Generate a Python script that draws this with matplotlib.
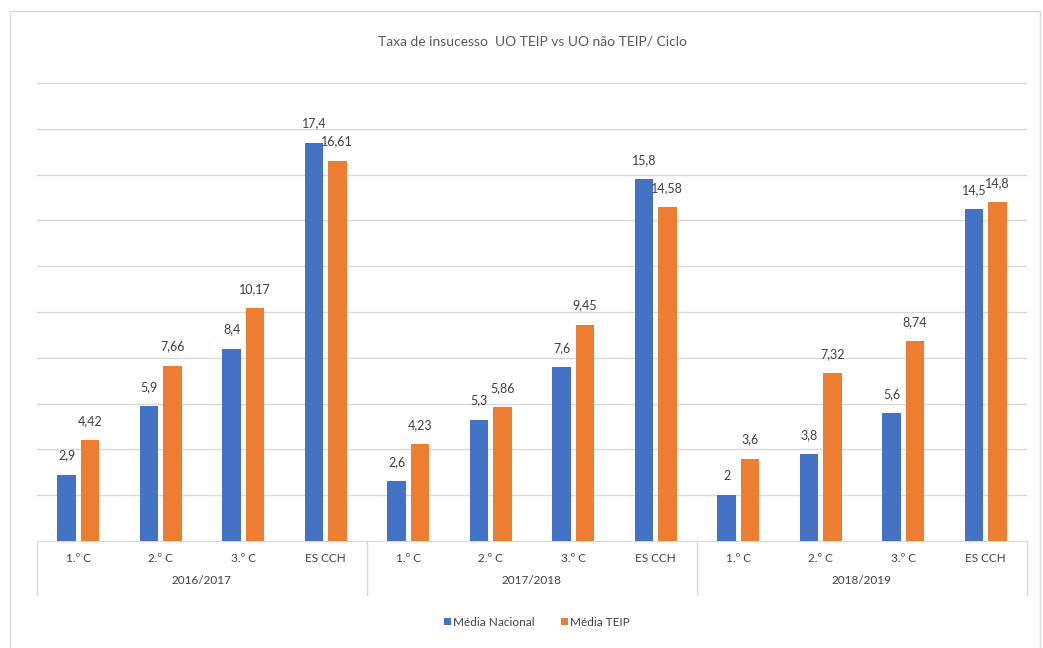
import matplotlib.pyplot as plt
import matplotlib.transforms as mtransforms
from matplotlib.patches import Rectangle
import numpy as np

# --- Données ---
anos = ['2016/2017', '2017/2018', '2018/2019']
ciclos = ['1.º C', '2.º C', '3.º C', 'ES CCH']
media_nacional = [2.9, 5.9, 8.4, 17.4, 2.6, 5.3, 7.6, 15.8, 2.0, 3.8, 5.6, 14.5]
media_teip = [4.42, 7.66, 10.17, 16.61, 4.23, 5.86, 9.45, 14.58, 3.6, 7.32, 8.74, 14.8]

titulo = 'Taxa de insucesso  UO TEIP vs UO não TEIP/ Ciclo'
cor_nac = '#4472C4'
cor_teip = '#ED7D31'
cor_grelha = '#D9D9D9'
cor_texto = '#404040'

plt.rcParams['font.family'] = ['Lato', 'DejaVu Sans']

fig = plt.figure(figsize=(10.43, 6.48), dpi=100)
fig.patch.set_facecolor('white')

# moldura do gráfico (estilo Excel)
fig.add_artist(Rectangle((10 / 1043, -0.01), 1030 / 1043, 1 - 11 / 648 + 0.01,
                         transform=fig.transFigure, fill=False,
                         edgecolor='#D9D9D9', linewidth=1))

ax = fig.add_axes([37 / 1043, 1 - 541 / 648, 990 / 1043, 458 / 648])

x = np.arange(len(media_nacional))
largura = 0.224
desloc = 0.14
b1 = ax.bar(x - desloc, media_nacional, largura, color=cor_nac, label='Média Nacional', zorder=3)
b2 = ax.bar(x + desloc, media_teip, largura, color=cor_teip, label='Média TEIP', zorder=3)

ax.set_xlim(-0.5, len(x) - 0.5)
ax.set_ylim(0, 20)
ax.set_yticks(np.arange(2, 21, 2))
ax.yaxis.grid(True, color=cor_grelha, linewidth=1)
ax.set_axisbelow(True)
ax.tick_params(axis='y', length=0, labelleft=False)
ax.tick_params(axis='x', length=0, labelbottom=False)
for s in ['top', 'right', 'left']:
    ax.spines[s].set_visible(False)
ax.spines['bottom'].set_color(cor_grelha)

# rótulos de valor
def fmt(v):
    return f'{v:g}'.replace('.', ',')

for barras, valores in [(b1, media_nacional), (b2, media_teip)]:
    for b, v in zip(barras, valores):
        ax.annotate(fmt(v), (b.get_x() + b.get_width() / 2, v),
                    xytext=(0, 19), textcoords='offset pixels',
                    ha='center', va='center', fontsize=9, color=cor_texto)

# eixo de categorias em dois níveis
trans = mtransforms.blended_transform_factory(ax.transData, ax.transAxes)
for i in range(len(x)):
    ax.text(x[i], -17 / 458, ciclos[i % 4], transform=trans,
            ha='center', va='center', fontsize=8.5, color=cor_texto)
for g, ano in enumerate(anos):
    ax.text(g * 4 + 1.5, -39 / 458, ano, transform=trans,
            ha='center', va='center', fontsize=8.5, color=cor_texto)
for sep in [-0.5, 3.5, 7.5, 11.5]:
    ax.plot([sep, sep], [0, -54 / 458], transform=trans, color=cor_grelha,
            linewidth=1, clip_on=False)

fig.text(532 / 1043, 1 - 42 / 648, titulo, ha='center', va='center',
         fontsize=10, color='#595959')

fig.legend(handles=[b1, b2], loc='center', bbox_to_anchor=(537 / 1043, 1 - 622 / 648),
           ncol=2, frameon=False, fontsize=8.5, handlelength=0.6, handleheight=0.6,
           handletextpad=0.2, columnspacing=2.2, labelcolor=cor_texto)

plt.savefig('out.png', dpi=100)
plt.close()
